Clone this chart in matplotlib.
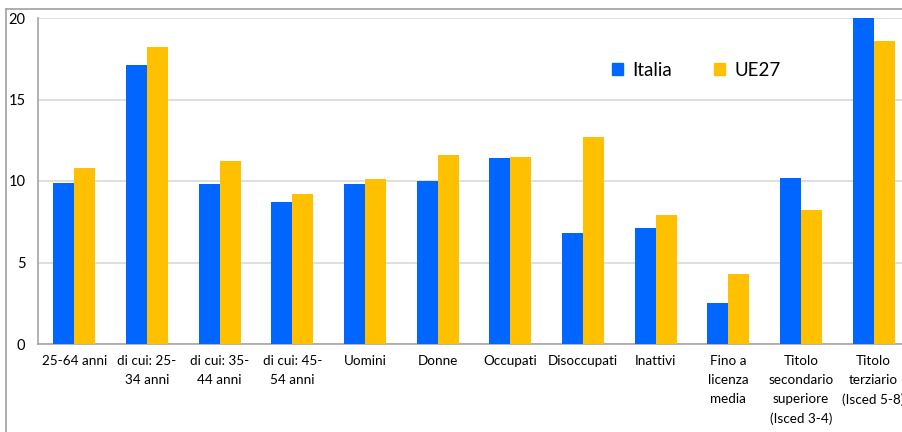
import matplotlib
matplotlib.use("Agg")
import matplotlib.pyplot as plt
import numpy as np
from matplotlib.lines import Line2D
from matplotlib.patches import Patch

plt.rcParams['font.family'] = ['Lato', 'DejaVu Sans']

categories = ["25-64 anni", "di cui: 25-\n34 anni", "di cui: 35-\n44 anni", "di cui: 45-\n54 anni",
              "Uomini", "Donne", "Occupati", "Disoccupati", "Inattivi",
              "Fino a\nlicenza\nmedia", "Titolo\nsecondario\nsuperiore\n(Isced 3-4)",
              "Titolo\nterziario\n(Isced 5-8)"]
italia = [9.9, 17.1, 9.8, 8.7, 9.8, 10.0, 11.4, 6.8, 7.1, 2.5, 10.2, 20.0]
ue27 = [10.8, 18.2, 11.2, 9.2, 10.1, 11.6, 11.5, 12.7, 7.9, 4.3, 8.2, 18.6]
yticks = [0, 5, 10, 15, 20]

blue = "#0066FF"
yellow = "#FFC000"

fig = plt.figure(figsize=(9.03, 4.32), dpi=100)
W, H = 903, 432
ax = fig.add_axes([38 / W, (H - 344) / H, 872 / W, 326 / H])

x = np.arange(len(categories))
w = 0.29
ax.bar(x - w / 2, italia, width=w, color=blue, label="Italia", zorder=3)
ax.bar(x + w / 2, ue27, width=w, color=yellow, label="UE27", zorder=3)

ax.set_xlim(-0.5, len(categories) - 0.5)
ax.set_ylim(0, 20)
ax.set_yticks(yticks)
ax.set_yticklabels([str(v) for v in yticks], fontsize=10.5)
ax.yaxis.grid(True, color="#d9d9d9", linewidth=1.2, zorder=0)
ax.set_axisbelow(True)
ax.set_xticks(x)
ax.set_xticklabels(categories, fontsize=9.7, linespacing=1.7, va="top")
ax.tick_params(axis="x", length=0, pad=8)
ax.tick_params(axis="y", length=0, pad=9)

for s in ["top", "right"]:
    ax.spines[s].set_visible(False)
for s in ["left", "bottom"]:
    ax.spines[s].set_color("#a6a6a6")
    ax.spines[s].set_linewidth(1.2)

handles = [Patch(color=blue), Patch(color=yellow)]
ax.legend(handles, ["Italia", "UE27"], ncol=2, frameon=False, fontsize=13.5,
          loc="center", bbox_to_anchor=(0.755, 0.84), handlelength=0.6, handleheight=0.6,
          handletextpad=0.5, columnspacing=2.2)

# outer frame lines
fig.add_artist(Line2D([6 / W, 6 / W], [0, 1 - 9 / H], color="#a0a0a0", linewidth=1.2,
                      transform=fig.transFigure))
fig.add_artist(Line2D([6 / W, 1], [1 - 9 / H, 1 - 9 / H], color="#a0a0a0", linewidth=1.2,
                      transform=fig.transFigure))

fig.savefig("out.png", dpi=100)
